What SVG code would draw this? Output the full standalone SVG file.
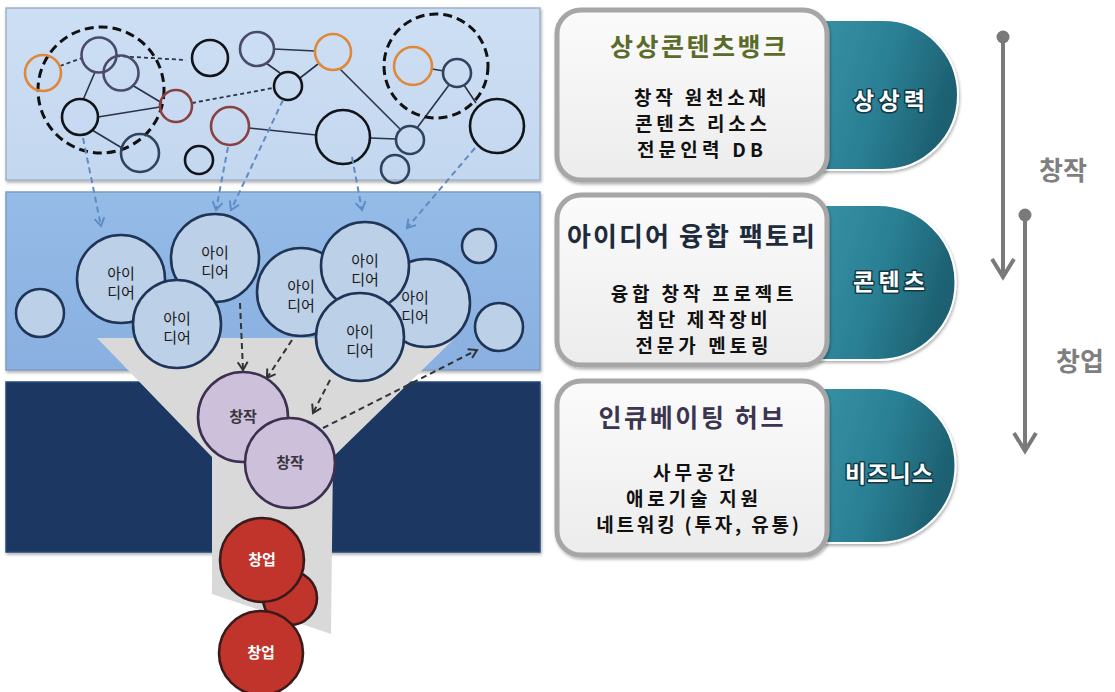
<svg xmlns="http://www.w3.org/2000/svg" width="1115" height="692" viewBox="0 0 1115 692">
<defs>
<style>
.kr{font-family:"Noto Sans CJK KR","Noto Sans",sans-serif}
.net{fill:none;stroke-width:2.6}
.blk{stroke:#111418}
.nvy{stroke:#2f4260}
.pur{stroke:#4a4a6c}
.org{stroke:#e0883a}
.red{stroke:#8a4040}
.ln{stroke:#2a3348;stroke-width:1.6;fill:none}
.dl{stroke:#2a3348;stroke-width:1.8;stroke-dasharray:4 3;fill:none}
.big{fill:none;stroke:#111;stroke-width:3;stroke-dasharray:9 5}
.idea{fill:#bcd0e8;stroke:#1f3558;stroke-width:2.6}
.it{font-size:15px;fill:#1a1a1a;text-anchor:middle}
.cre{fill:#ccc0da;stroke:#3c2f50;stroke-width:2.6}
.ct{font-size:15px;font-weight:bold;fill:#3a3540;text-anchor:middle}
.sta{fill:#c0342c;stroke:#3a1a1a;stroke-width:2.6}
.st{font-size:15px;font-weight:bold;fill:#fff;text-anchor:middle}
.bd{stroke:#5d8cc6;stroke-width:2;stroke-dasharray:6 4;fill:none}
.kd{stroke:#333;stroke-width:2;stroke-dasharray:6 4;fill:none}
.box{fill:url(#boxg);stroke:#a6a6a6;stroke-width:5}
.tb{font-size:19px;font-weight:bold;fill:#111;text-anchor:middle}
.tl{font-size:23px;font-weight:bold;fill:#fff;stroke:#123a46;stroke-width:3;paint-order:stroke;text-anchor:middle;stroke-linejoin:round}
.teal{fill:url(#tealg);stroke:#fff;stroke-width:2}
.ga{stroke:#7a7a7a;stroke-width:4;fill:none}
.gl{font-size:26px;font-weight:bold;fill:#7f7f7f;stroke:#fff;stroke-width:3;paint-order:stroke;text-anchor:middle;stroke-linejoin:round}
</style>
<linearGradient id="boxg" x1="0" y1="0" x2="0" y2="1"><stop offset="0" stop-color="#fbfbfb"/><stop offset="1" stop-color="#ececec"/></linearGradient>
<linearGradient id="tealg" x1="0" y1="0" x2="1" y2="0.3"><stop offset="0" stop-color="#3a95aa"/><stop offset="0.6" stop-color="#2a7f93"/><stop offset="1" stop-color="#1d6172"/></linearGradient>
<linearGradient id="p1" x1="0" y1="0" x2="0" y2="1"><stop offset="0" stop-color="#cddff4"/><stop offset="1" stop-color="#c3d7ef"/></linearGradient>
<linearGradient id="p2" x1="0" y1="0" x2="0" y2="1"><stop offset="0" stop-color="#95bbe7"/><stop offset="1" stop-color="#89b0e0"/></linearGradient>
<marker id="ab" markerWidth="12" markerHeight="12" refX="10" refY="6" orient="auto" markerUnits="userSpaceOnUse"><path d="M2,1 L10,6 L2,11" fill="none" stroke="#5d8cc6" stroke-width="2"/></marker>
<marker id="ak" markerWidth="12" markerHeight="12" refX="10" refY="6" orient="auto" markerUnits="userSpaceOnUse"><path d="M2,1 L10,6 L2,11" fill="none" stroke="#333" stroke-width="2"/></marker>
<filter id="sh" x="-10%" y="-10%" width="120%" height="130%"><feDropShadow dx="1" dy="2" stdDeviation="1.5" flood-color="#000" flood-opacity="0.3"/></filter>
</defs>

<g id="panels">
<rect x="6" y="8" width="534" height="172" fill="url(#p1)" stroke="#9fb1c7" stroke-width="1.5" filter="url(#sh)"/>
<rect x="6" y="192" width="534" height="178" fill="url(#p2)" stroke="#7d9cc4" stroke-width="1.5" filter="url(#sh)"/>
<rect x="6" y="382" width="534" height="170" fill="#1b3862" stroke="#294a78" stroke-width="1.5" filter="url(#sh)"/>
</g>

<g id="network">
<line class="dl" x1="60" y1="66" x2="82" y2="58"/>
<line class="dl" x1="116" y1="56" x2="186" y2="60"/>
<line class="dl" x1="192" y1="103" x2="273" y2="88"/>
<line class="ln" x1="95" y1="72" x2="83" y2="100"/>
<line class="ln" x1="132" y1="85" x2="162" y2="103"/>
<line class="ln" x1="98" y1="117" x2="160" y2="107"/>
<line class="ln" x1="92" y1="130" x2="122" y2="148"/>
<line class="ln" x1="274" y1="49" x2="315" y2="51"/>
<line class="ln" x1="266" y1="63" x2="280" y2="73"/>
<line class="ln" x1="300" y1="78" x2="318" y2="64"/>
<line class="ln" x1="340" y1="69" x2="400" y2="129" stroke-width="1.2"/>
<line class="ln" x1="249" y1="128" x2="316" y2="135"/>
<line class="ln" x1="370" y1="138" x2="396" y2="139"/>
<line class="ln" x1="449" y1="85" x2="417" y2="128"/>
<line class="ln" x1="432" y1="69" x2="444" y2="71"/>
<line class="ln" x1="464" y1="85" x2="476" y2="103"/>
<circle class="big" cx="101" cy="90" r="63"/>
<circle class="big" cx="436" cy="66" r="52"/>
<circle class="net org" cx="43" cy="73" r="18"/>
<circle class="net pur" cx="99" cy="55" r="17.5"/>
<circle class="net pur" cx="121" cy="73" r="17.5"/>
<circle class="net blk" cx="80" cy="117" r="18"/>
<circle class="net red" cx="176" cy="106" r="16"/>
<circle class="net nvy" cx="140" cy="153" r="19"/>
<circle class="net blk" cx="210" cy="58" r="18"/>
<circle class="net blk" cx="199" cy="160" r="14"/>
<circle class="net pur" cx="257" cy="49" r="17"/>
<circle class="net org" cx="333" cy="52" r="18"/>
<circle class="net blk" cx="288" cy="86" r="14"/>
<circle class="net red" cx="230" cy="126" r="19"/>
<circle class="net blk" cx="343" cy="137" r="27"/>
<circle class="net nvy" cx="410" cy="140" r="14"/>
<circle class="net nvy" cx="395" cy="169" r="14"/>
<circle class="net org" cx="413" cy="66" r="19"/>
<circle class="net nvy" cx="457" cy="73" r="14"/>
<circle class="net blk" cx="497" cy="126" r="27"/>
</g>

<g id="funnel">
<polygon points="97,338 455,338 333,457 331,634 212,594 212,457" fill="#d9d9d9"/>
</g>

<g id="connectors">
<line class="bd" x1="83" y1="138" x2="101" y2="226" marker-end="url(#ab)"/>
<line class="bd" x1="228" y1="147" x2="216" y2="210" marker-end="url(#ab)"/>
<line class="bd" x1="283" y1="100" x2="231" y2="210" marker-end="url(#ab)"/>
<line class="bd" x1="352" y1="157" x2="362" y2="210" marker-end="url(#ab)"/>
<line class="bd" x1="475" y1="148" x2="407" y2="228" marker-end="url(#ab)"/>
</g>

<g id="ideas">
<circle class="idea" cx="40" cy="313" r="24"/>
<circle class="idea" cx="479" cy="246" r="17"/>
<circle class="idea" cx="499" cy="327" r="24"/>
<g id="idea-a"><circle class="idea" cx="121" cy="279" r="44"/><text class="kr it" x="121" y="279"><tspan x="121">아이</tspan><tspan x="121" dy="19">디어</tspan></text></g>
<g id="idea-b"><circle class="idea" cx="215" cy="258" r="44"/><text class="kr it" x="215" y="258"><tspan x="215">아이</tspan><tspan x="215" dy="19">디어</tspan></text></g>
<g id="idea-c"><circle class="idea" cx="177" cy="324" r="44"/><text class="kr it" x="177" y="324"><tspan x="177">아이</tspan><tspan x="177" dy="19">디어</tspan></text></g>
<g id="idea-d"><circle class="idea" cx="301" cy="292" r="44"/><text class="kr it" x="301" y="292"><tspan x="301">아이</tspan><tspan x="301" dy="19">디어</tspan></text></g>
<g id="idea-f"><circle class="idea" cx="426" cy="303" r="44"/><text class="kr it" x="415" y="303"><tspan x="415">아이</tspan><tspan x="415" dy="19">디어</tspan></text></g>
<g id="idea-e"><circle class="idea" cx="365" cy="266" r="44"/><text class="kr it" x="365" y="266"><tspan x="365">아이</tspan><tspan x="365" dy="19">디어</tspan></text></g>
<g id="idea-g"><circle class="idea" cx="360" cy="337" r="44"/><text class="kr it" x="360" y="337"><tspan x="360">아이</tspan><tspan x="360" dy="19">디어</tspan></text></g>
</g>

<g id="connectors2">
<line class="kd" x1="240" y1="303" x2="243" y2="370" marker-end="url(#ak)"/>
<line class="kd" x1="292" y1="340" x2="267" y2="378" marker-end="url(#ak)"/>
<line class="kd" x1="330" y1="380" x2="313" y2="413" marker-end="url(#ak)"/>
<line class="kd" x1="323" y1="428" x2="477" y2="350" marker-end="url(#ak)"/>
</g>

<g id="creation">
<g id="cre-1"><circle class="cre" cx="243" cy="417" r="45"/><text class="kr ct" x="243" y="422">창작</text></g>
<g id="cre-2"><circle class="cre" cx="290" cy="463" r="45"/><text class="kr ct" x="290" y="468">창작</text></g>
</g>

<g id="startup">
<circle class="sta" cx="290" cy="598" r="27"/>
<g id="sta-1"><circle class="sta" cx="262" cy="560" r="42"/><text class="kr st" x="262" y="565">창업</text></g>
<g id="sta-2"><circle class="sta" cx="261" cy="653" r="42"/><text class="kr st" x="261" y="658">창업</text></g>
</g>

<g id="bank">
<path class="teal" d="M800,20 H883 A75,75 0 0 1 883,170 H800 Z" filter="url(#sh)"/>
<rect class="box" x="557" y="10" width="270" height="170" rx="24" filter="url(#sh)"/>
<text class="kr" x="698" y="56" font-size="25" font-weight="bold" fill="#5b6b2a" text-anchor="middle" textLength="176">상상콘텐츠뱅크</text>
<text class="kr tb" x="702" y="105"><tspan x="702" letter-spacing="3.8">창작 원천소재</tspan><tspan x="703" dy="26" letter-spacing="3.8">콘텐츠 리소스</tspan><tspan x="702" dy="26" letter-spacing="4.2">전문인력 DB</tspan></text>
<text class="kr tl" x="889" y="109" textLength="72">상상력</text>
</g>

<g id="factory">
<path class="teal" d="M800,205 H878 A77.5,77.5 0 0 1 878,360 H800 Z" filter="url(#sh)"/>
<rect class="box" x="557" y="195" width="270" height="170" rx="24" filter="url(#sh)"/>
<text class="kr" x="691" y="246" font-size="26" font-weight="bold" fill="#1e2b3c" text-anchor="middle" textLength="248">아이디어 융합 팩토리</text>
<text class="kr tb" x="704" y="301"><tspan x="704" letter-spacing="3.8">융합 창작 프로젝트</tspan><tspan x="704" dy="26" letter-spacing="3.7">첨단 제작장비</tspan><tspan x="704" dy="26" letter-spacing="4">전문가 멘토링</tspan></text>
<text class="kr tl" x="889" y="290" textLength="72">콘텐츠</text>
</g>

<g id="hub">
<path class="teal" d="M800,388 H878 A77.5,77.5 0 0 1 878,543 H800 Z" filter="url(#sh)"/>
<rect class="box" x="557" y="381" width="270" height="174" rx="24" filter="url(#sh)"/>
<text class="kr" x="691" y="427" font-size="25" font-weight="bold" fill="#3b3550" text-anchor="middle" textLength="185">인큐베이팅 허브</text>
<text class="kr tb" x="696" y="480"><tspan x="696" letter-spacing="4">사무공간</tspan><tspan x="694" dy="26" letter-spacing="3.8">애로기술 지원</tspan><tspan x="699" dy="26" letter-spacing="2.8">네트워킹 (투자, 유통)</tspan></text>
<text class="kr tl" x="889" y="482" textLength="88">비즈니스</text>
</g>

<g id="flow">
<circle cx="1003" cy="37" r="6.5" fill="#7a7a7a"/>
<line class="ga" x1="1003" y1="37" x2="1003" y2="276"/>
<path class="ga" d="M992,259 L1003,277 L1014,259"/>
<circle cx="1025" cy="215" r="6.5" fill="#7a7a7a"/>
<line class="ga" x1="1025" y1="215" x2="1025" y2="450"/>
<path class="ga" d="M1014,433 L1025,451 L1036,433"/>
<text class="kr gl" x="1063" y="180">창작</text>
<text class="kr gl" x="1080" y="371">창업</text>
</g>
</svg>
